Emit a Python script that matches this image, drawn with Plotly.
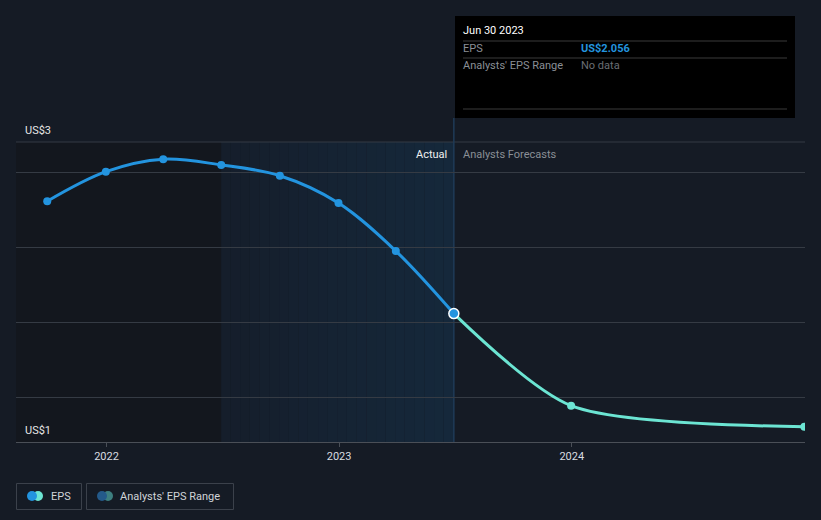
import plotly.graph_objects as go

# ---- data ----
actual_dates = ["2021-09-30", "2021-12-31", "2022-03-31", "2022-06-30",
                "2022-09-30", "2022-12-31", "2023-03-31", "2023-06-30"]
actual_eps = [2.805, 3.002, 3.085, 3.047, 2.975, 2.793, 2.473, 2.056]
forecast_dates = ["2023-06-30", "2023-12-31", "2024-12-31"]
forecast_eps = [2.056, 1.442, 1.302]
year_ticks = ["2022-01-01", "2023-01-01", "2024-01-01"]
year_labels = ["2022", "2023", "2024"]
grid_vals = [1.5, 2.0, 2.5, 3.0]

W, H = 821, 520
L, R, T, B = 16, 16, 142, 78
PW, PH = W - L - R, H - T - B

def px(x):
    return (x - L) / PW

def py(y):
    return (H - B - y) / PH

BG = "#151b25"
BLUE = "#2394df"
TEAL = "#6ce5d3"
GRID = "#353b44"

fig = go.Figure()

shapes = []
# darker past region
shapes.append(dict(type="rect", xref="x", yref="paper", x0="2021-08-12", x1="2022-06-30",
                   y0=0, y1=1, fillcolor="#13171e", line_width=0, layer="below"))
# actual gradient region
import datetime as dt
d0 = dt.date(2022, 6, 30)
d1 = dt.date(2023, 6, 30)
n = 24
span = (d1 - d0).days
c0 = (21, 30, 43)
c1 = (22, 41, 60)
for i in range(n):
    a = d0 + dt.timedelta(days=span * i / n)
    b = d0 + dt.timedelta(days=span * (i + 1) / n)
    t = (i + 0.5) / n
    c = tuple(int(c0[k] + (c1[k] - c0[k]) * t) for k in range(3))
    shapes.append(dict(type="rect", xref="x", yref="paper", x0=a.isoformat(), x1=b.isoformat(),
                       y0=0, y1=1, fillcolor="rgb(%d,%d,%d)" % c, line_width=0, layer="below"))
# top gridline
shapes.append(dict(type="line", xref="paper", yref="paper", x0=0, x1=1, y0=1, y1=1,
                   line=dict(color=GRID, width=1), layer="below"))
# vertical divider
shapes.append(dict(type="line", xref="x", yref="paper", x0="2023-06-30", x1="2023-06-30",
                   y0=0, y1=py(118), line=dict(color="#1f3b57", width=1.5), layer="below"))
# tooltip box
shapes.append(dict(type="rect", xref="paper", yref="paper", x0=px(455), x1=px(795),
                   y0=py(118), y1=py(16), fillcolor="#000000", line_width=0))
for yy in (41, 58, 109):
    shapes.append(dict(type="line", xref="paper", yref="paper", x0=px(463), x1=px(787),
                       y0=py(yy), y1=py(yy), line=dict(color="#3a3a3a", width=1)))
# legend boxes
shapes.append(dict(type="rect", xref="paper", yref="paper", x0=px(16.5), x1=px(81.5),
                   y0=py(509.5), y1=py(483.5), line=dict(color="#3b414b", width=1), fillcolor=BG))
shapes.append(dict(type="rect", xref="paper", yref="paper", x0=px(86.5), x1=px(233.5),
                   y0=py(509.5), y1=py(483.5), line=dict(color="#3b414b", width=1), fillcolor=BG))
for cx, col in ((38, TEAL), (32, BLUE), (108, "#3d7f80"), (102, "#245a8a")):
    r = 5
    shapes.append(dict(type="circle", xref="paper", yref="paper", x0=px(cx - r), x1=px(cx + r),
                       y0=py(496 + r), y1=py(496 - r), fillcolor=col, line_width=0))

fig.add_trace(go.Scatter(x=forecast_dates, y=forecast_eps, mode="lines+markers",
                         line=dict(color=TEAL, width=3, shape="spline", smoothing=0.75),
                         marker=dict(size=8, color=TEAL), hoverinfo="skip"))
fig.add_trace(go.Scatter(x=actual_dates, y=actual_eps, mode="lines+markers",
                         line=dict(color=BLUE, width=3, shape="spline", smoothing=1),
                         marker=dict(size=8, color=BLUE), hoverinfo="skip"))
fig.add_trace(go.Scatter(x=[actual_dates[-1]], y=[actual_eps[-1]], mode="markers",
                         marker=dict(size=10, color=BLUE, line=dict(color="#ffffff", width=1.5)),
                         hoverinfo="skip"))

F = "Roboto"
ann = []
def text(x, y, s, color, size=11, anchor="left", bold=False):
    dx = -2 if anchor == "left" else 2
    ann.append(dict(xref="paper", yref="paper", x=px(x + dx), y=py(y), text=("<b>%s</b>" % s) if bold else s,
                    showarrow=False, xanchor=anchor, yanchor="middle",
                    font=dict(family=F, size=size, color=color)))

text(25, 130, "US$3", "#e6e6e6", 11)
text(25, 430, "US$1", "#e6e6e6", 11)
text(447, 154, "Actual", "#f0f0f0", 11, anchor="right")
text(463, 154, "Analysts Forecasts", "#8a8f96", 11)
text(463, 31, "Jun 30 2023", "#ffffff", 11)
text(463, 49, "EPS", "#8a8f96", 11)
text(581, 49, "US$2.056", BLUE, 11, bold=True)
text(463, 66, "Analysts' EPS Range", "#8a8f96", 11)
text(581, 66, "No data", "#6a6e74", 11)
text(51, 496, "EPS", "#d0d4d8", 11)
text(120, 496, "Analysts' EPS Range", "#d0d4d8", 11)

fig.update_layout(
    width=W, height=H, margin=dict(l=L, r=R, t=T, b=B),
    paper_bgcolor=BG, plot_bgcolor=BG, showlegend=False,
    shapes=shapes, annotations=ann, font=dict(family=F),
    xaxis=dict(range=["2021-08-12", "2025-01-01"], tickvals=year_ticks, ticktext=year_labels,
               showgrid=False, zeroline=False, showline=True, linecolor="#4a4f57", linewidth=1,
               ticks="outside", ticklen=4, tickcolor="#4a4f57",
               tickfont=dict(family=F, size=11, color="#d8dce0")),
    yaxis=dict(range=[1.2, 3.2], tickvals=grid_vals, showticklabels=False, showgrid=True,
               gridcolor=GRID, gridwidth=1, zeroline=False, showline=False, fixedrange=True),
)

fig.write_html("out.html")
